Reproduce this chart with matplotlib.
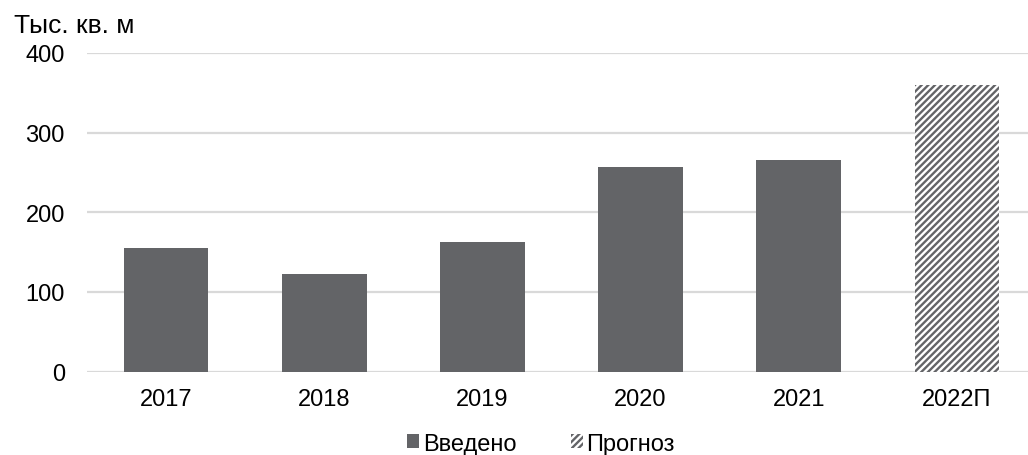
import matplotlib
matplotlib.use("Agg")
import matplotlib.pyplot as plt
from matplotlib.patches import Patch

plt.rcParams['font.family'] = ['Liberation Sans', 'DejaVu Sans']
plt.rcParams['hatch.linewidth'] = 1.7
plt.rcParams['hatch.color'] = '#636467'

categories = ['2017', '2018', '2019', '2020', '2021', '2022П']
values = [155, 123, 163, 257, 265, 360]
is_forecast = [False, False, False, False, False, True]
ylabel = 'Тыс. кв. м'
legend_labels = ['Введено', 'Прогноз']
yticks = [0, 100, 200, 300, 400]

color = '#636467'
fs = 17

fig = plt.figure(figsize=(10.28, 4.56), dpi=100)
ax = fig.add_axes([87 / 1028, 1 - 372.5 / 456, 949 / 1028, 318.5 / 456])

x = list(range(len(categories)))
for xi, v, f in zip(x, values, is_forecast):
    if f:
        ax.bar(xi, v, width=0.535, facecolor='white', edgecolor=color, hatch='/////', linewidth=0)
    else:
        ax.bar(xi, v, width=0.535, color=color, linewidth=0)

ax.set_xlim(-0.5, len(categories) - 0.5)
ax.set_ylim(0, 400)
ax.set_yticks(yticks)
ax.set_xticks(x)
ax.set_xticklabels(categories)
ax.yaxis.grid(True, color='#d9d9d9', linewidth=1.6)
ax.set_axisbelow(True)
for s in ax.spines.values():
    s.set_visible(False)
ax.tick_params(axis='both', length=0, labelsize=fs, colors='black')
ax.tick_params(axis='y', pad=16)
ax.tick_params(axis='x', pad=12)

fig.text(14 / 1028, 1 - 33 / 456, ylabel, fontsize=19, ha='left', va='baseline')

handles = [Patch(facecolor=color, edgecolor='none'),
           Patch(facecolor='white', edgecolor=color, hatch='/////', linewidth=0)]
fig.legend(handles, legend_labels, loc='center', bbox_to_anchor=(541 / 1028, 0.025),
           ncol=2, frameon=False, fontsize=fs, handlelength=0.5, handleheight=0.5,
           handletextpad=0.17, columnspacing=2.3)

fig.savefig('out.png', dpi=100)
